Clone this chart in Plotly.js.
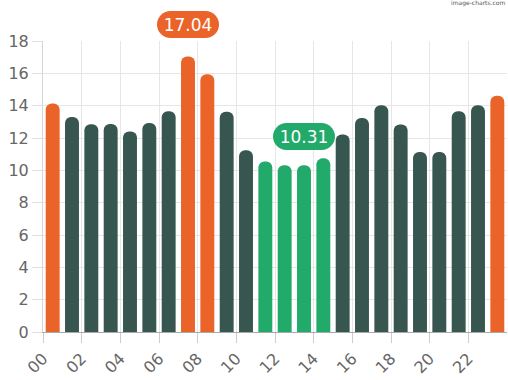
<!DOCTYPE html>
<html><head><meta charset="utf-8">
<script src="https://cdn.plot.ly/plotly-3.0.1.min.js"></script>
<style>html,body{margin:0;padding:0;background:#fff}#chart{width:508px;height:380px}</style>
</head><body><div id="chart"></div>
<script>
const hours = ['00','01','02','03','04','05','06','07','08','09','10','11','12','13','14','15','16','17','18','19','20','21','22','23'];
const values = [14.13,13.30,12.85,12.87,12.40,12.93,13.65,17.04,15.94,13.63,11.24,10.54,10.32,10.31,10.74,12.21,13.24,14.02,12.83,11.13,11.13,13.65,14.02,14.62];
const tickHours = ['00','02','04','06','08','10','12','14','16','18','20','22'];
const yTicks = [0,2,4,6,8,10,12,14,16,18];

const colorHigh = '#EA6329', colorLow = '#22AA6B', colorMid = '#37564F';
const sorted = values.slice().sort((a,b)=>a-b);
const lowCut = sorted[3], highCut = sorted[sorted.length-4];
const colors = values.map(v => v >= highCut ? colorHigh : (v <= lowCut ? colorLow : colorMid));
const xPos = hours.map((h,i) => i + 0.5);
const tickPos = tickHours.map(h => hours.indexOf(h));

const maxV = Math.max(...values), minV = Math.min(...values);
const maxI = values.indexOf(maxV), minI = values.indexOf(minV);

const trace = {
  type: 'bar', x: xPos, y: values,
  width: 0.72,
  marker: {color: colors, cornerradius: 7, line: {width: 0}},
  hoverinfo: 'skip'
};
const pill = (i, v, col, shift) => ({
  x: xPos[i], y: v, xref: 'x', yref: 'y', showarrow: false,
  text: v.toFixed(2), yshift: shift, yanchor: 'middle', xanchor: 'center',
  width: 62, height: 27, borderpad: 0, borderwidth: 0,
  bgcolor: col, font: {family: 'DejaVu Sans', size: 17, color: '#ffffff'}
});
const layout = {
  width: 508, height: 380,
  margin: {l: 43, r: 1, t: 41, b: 48},
  paper_bgcolor: '#ffffff', plot_bgcolor: '#ffffff',
  showlegend: false,
  font: {family: 'DejaVu Sans', color: '#666666'},
  xaxis: {
    range: [0, 24], tickmode: 'array', tickvals: tickPos, ticktext: tickHours,
    tickangle: -45, ticks: 'outside', ticklen: 10, tickcolor: '#cccccc',
    showgrid: true, gridcolor: '#e6e6e6', gridwidth: 1,
    showline: true, linecolor: '#aaaaaa', linewidth: 1,
    tickfont: {size: 16, color: '#666666'}, zeroline: false, fixedrange: true
  },
  yaxis: {
    range: [0, 18], tickmode: 'array', tickvals: yTicks,
    ticks: 'outside', ticklen: 10, tickcolor: '#e0e0e0',
    showgrid: true, gridcolor: '#e6e6e6', gridwidth: 1,
    showline: true, linecolor: '#d6d6d6', linewidth: 1,
    tickfont: {size: 16, color: '#666666'}, zeroline: false, fixedrange: true
  },
  annotations: [
    pill(maxI, maxV, colorHigh, 32),
    pill(minI, minV, colorLow, 29),
    {xref: 'paper', yref: 'paper', x: 1, y: 1, xanchor: 'right', yanchor: 'bottom',
     yshift: 32, showarrow: false, text: 'image-charts.com',
     font: {family: 'DejaVu Sans', size: 6, color: '#555555'}}
  ]
};
Plotly.newPlot('chart', [trace], layout, {staticPlot: true, displayModeBar: false}).then(() => {
  document.querySelectorAll('.annotation rect.bg').forEach((r, k) => {
    if (k < 2) { r.setAttribute('rx', 13.5); r.setAttribute('ry', 13.5); }
  });
});
</script>
</body></html>
